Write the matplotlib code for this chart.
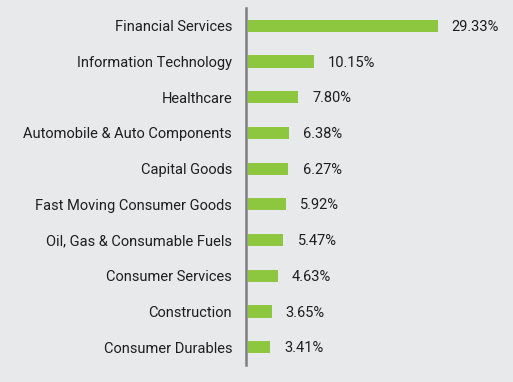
import matplotlib.pyplot as plt

sectors = ['Financial Services', 'Information Technology', 'Healthcare',
           'Automobile & Auto Components', 'Capital Goods',
           'Fast Moving Consumer Goods', 'Oil, Gas & Consumable Fuels',
           'Consumer Services', 'Construction', 'Consumer Durables']
weights = [29.33, 10.15, 7.80, 6.38, 6.27, 5.92, 5.47, 4.63, 3.65, 3.41]

bg = '#e8e9eb'
plt.rcParams['font.family'] = ['Roboto', 'DejaVu Sans']

fig = plt.figure(figsize=(5.13, 3.82), dpi=100, facecolor=bg)
ax = fig.add_axes([246 / 513, 17 / 382, 267 / 513, 357 / 382], facecolor=bg)

y = list(range(len(sectors)))
ax.barh(y, weights, height=0.34, color='#8dc63f', left=0)

for yi, w in zip(y, weights):
    ax.text(w + 2.2, yi + 0.03, f'{w:.2f}%', va='center', ha='left',
            fontsize=10.5, color='#1e1e1e')

ax.set_ylim(len(sectors) - 0.5, -0.5)
ax.set_xlim(-0.3, 41)
ax.set_yticks(y)
ax.set_yticklabels(sectors, fontsize=10.5, color='#1e1e1e')
ax.tick_params(axis='y', length=0, pad=10)
ax.set_xticks([])

for side in ['top', 'right', 'bottom']:
    ax.spines[side].set_visible(False)
ax.spines['left'].set_color('#7f7f7f')
ax.spines['left'].set_linewidth(1.8)

fig.savefig('out.png', dpi=100, facecolor=bg)
